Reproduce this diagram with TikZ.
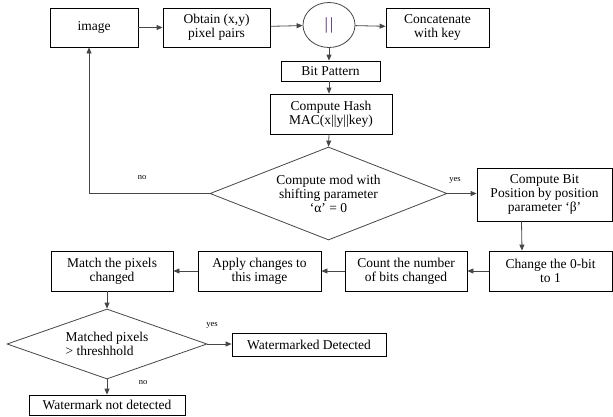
\documentclass[tikz,border=0pt]{standalone}
\usepackage{fontspec}
\setmainfont{Liberation Serif}
\usetikzlibrary{arrows.meta,shapes.geometric}
\definecolor{lineg}{RGB}{70,70,70}
\definecolor{barpurple}{RGB}{70,40,110}

\begin{document}
\begin{tikzpicture}[x=1pt,y=-1pt,
  box/.style={draw=black, line width=0.8pt, align=center, inner sep=1pt,
    font=\fontsize{13.5}{14}\selectfont},
  decide/.style={diamond, draw=lineg, line width=0.8pt, align=center, inner sep=0pt,
    font=\fontsize{13.5}{14}\selectfont},
  arr/.style={-{Triangle[length=6pt,width=5pt]}, draw=lineg, line width=0.8pt},
  lbl/.style={font=\fontsize{8.5}{9}\selectfont}]
\useasboundingbox (0,0) rectangle (613,416);
% top row
\node[box, minimum width=88, minimum height=39] (image) at (94,27.5) {image};
\node[box, minimum width=107, minimum height=39] (obtain) at (216.5,27.5) {Obtain (x,y)\\pixel pairs};
\node[ellipse, draw=lineg, line width=0.8pt, minimum width=52, minimum height=45,
  font=\fontsize{17}{17}\selectfont, text=barpurple] (bar) at (329,25) {|\kern2pt|};
\node[box, minimum width=103, minimum height=39] (concat) at (437.5,27.5) {Concatenate\\with key};
% hashing
\node[box, minimum width=99, minimum height=20] (bitpat) at (330.5,71) {Bit Pattern};
\node[box, minimum width=122, minimum height=40] (hash) at (331,114) {Compute Hash\\MAC(x||y||key)};
\node[decide, aspect=2.55, minimum width=237, minimum height=93] (dia) at (328.5,193.5)
  {Compute mod with\\shifting parameter\\‘α’ = 0};
\node[box, minimum width=135, minimum height=53] (bitpos) at (544.5,194.5)
  {Compute Bit\\Position by position\\parameter ‘β’};
% changes row
\node[box, minimum width=123, minimum height=40] (change) at (550.5,271) {Change the 0-bit\\to 1};
\node[box, minimum width=122, minimum height=40] (count) at (406,271) {Count the number\\of bits changed};
\node[box, minimum width=123, minimum height=40] (apply) at (259.5,271) {Apply changes to\\this image};
\node[box, minimum width=122, minimum height=40] (match) at (112,271) {Match the pixels\\changed};
% detection
\node[decide, align=left, aspect=2.86, minimum width=200, minimum height=70] (dia2) at (107,344)
  {Matched pixels\\> threshhold};
\node[box, minimum width=154, minimum height=23] (detected) at (309,344.5) {Watermarked Detected};
\node[box, minimum width=156, minimum height=20] (notdet) at (107,405) {Watermark not detected};
% labels
\node[lbl] (no1) at (142,178) {no};
\node[lbl] (yes1) at (455,180) {yes};
\node[lbl] (yes2) at (212,325) {yes};
\node[lbl] (no2) at (143,383) {no};
% connectors
\draw[arr] (image) -- (obtain);
\draw[arr] (obtain) -- (bar);
\draw[arr] (bar) -- (concat);
\draw[arr] (bar.south) -- (bar.south |- bitpat.north);
\draw[arr] (bitpat.south -| bar.south) -- (bar.south |- hash.north);
\draw[arr] (hash.south -| bar.south) -- (dia.north);
\draw[arr] (dia.east) -- (bitpos.west |- dia.east);
\draw[arr] (dia.west) -| ([xshift=-5pt]image.south);
\draw[arr] ([xshift=-23pt]bitpos.south) -- ([xshift=-28.5pt]change.north);
\draw[arr] (change) -- (count);
\draw[arr] (count) -- (apply);
\draw[arr] (apply) -- (match);
\draw[arr] (match.south -| dia2.north) -- (dia2.north);
\draw[arr] (dia2.east) -- (detected.west |- dia2.east);
\draw[arr] (dia2.south) -- (notdet.north);
\end{tikzpicture}
\end{document}
